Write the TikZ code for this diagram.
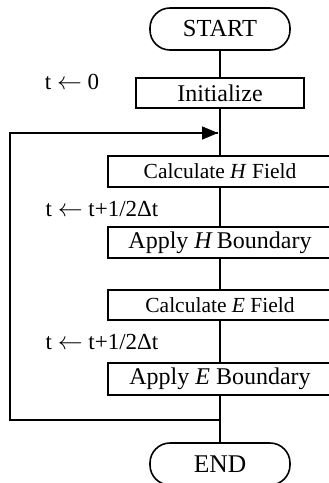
\documentclass[tikz,border=0pt]{standalone}
\usepackage{fontspec}
\setmainfont{Liberation Serif}
\usetikzlibrary{arrows.meta}
\tikzset{
  line/.style={line width=1.6pt},
  term/.style={draw, line width=1.6pt, rounded corners=20pt, minimum width=140pt, minimum height=42pt, inner sep=0pt, font=\fontsize{24.5}{28}\selectfont},
  initbox/.style={draw, line width=1.6pt, minimum width=168pt, minimum height=30pt, inner sep=0pt, font=\fontsize{24}{26}\selectfont},
  calcbox/.style={draw, line width=1.6pt, minimum width=224pt, inner sep=0pt, font=\fontsize{21.5}{24}\selectfont},
  applybox/.style={draw, line width=1.6pt, minimum width=224pt, inner sep=0pt, font=\fontsize{24}{26}\selectfont},
  lbl/.style={inner sep=0pt, font=\fontsize{23}{26}\selectfont},
  arr/.style={line width=1.6pt, -{Triangle[length=16pt, width=13pt]}}
}
\begin{document}
\begin{tikzpicture}[x=1pt, y=-1pt]
\useasboundingbox (0,0) rectangle (329,483);
\node[term] (start) at (220,29) {START};
\node[initbox] (init) at (220,93) {Initialize};
\node[calcbox, minimum height=31pt] (calcH) at (220,171.5) {Calculate \textit{H} Field};
\node[applybox, minimum height=31pt] (applyH) at (220,242.5) {Apply \textit{H}\,Boundary};
\node[calcbox, minimum height=30pt] (calcE) at (220,305) {Calculate \textit{E} Field};
\node[applybox, minimum height=32pt] (applyE) at (220,379) {Apply \textit{E} Boundary};
\node[term, font=\fontsize{25.5}{28}\selectfont] (stop) at (220,464) {END};
\node[lbl] (l0) at (72,82) {t $\leftarrow$ 0};
\node[lbl] (l1) at (102,209) {t $\leftarrow$ t+1/2Δt};
\node[lbl] (l2) at (102,342) {t $\leftarrow$ t+1/2Δt};
\coordinate (jin) at (220,133);
\coordinate (jout) at (220,420);
\coordinate (bl) at (10,420);
\coordinate (tl) at (10,133);
\coordinate (tip) at (218,133);
\draw[line] (start) -- (init);
\draw[line] (init) -- (calcH);
\draw[line] (calcH) -- (applyH);
\draw[line] (applyH) -- (calcE);
\draw[line] (calcE) -- (applyE);
\draw[line] (applyE) -- (stop);
\draw[line] (jout) -- (bl) -- (tl) -- (tip);
\draw[arr] (tl) -- (tip);
\end{tikzpicture}
\end{document}
